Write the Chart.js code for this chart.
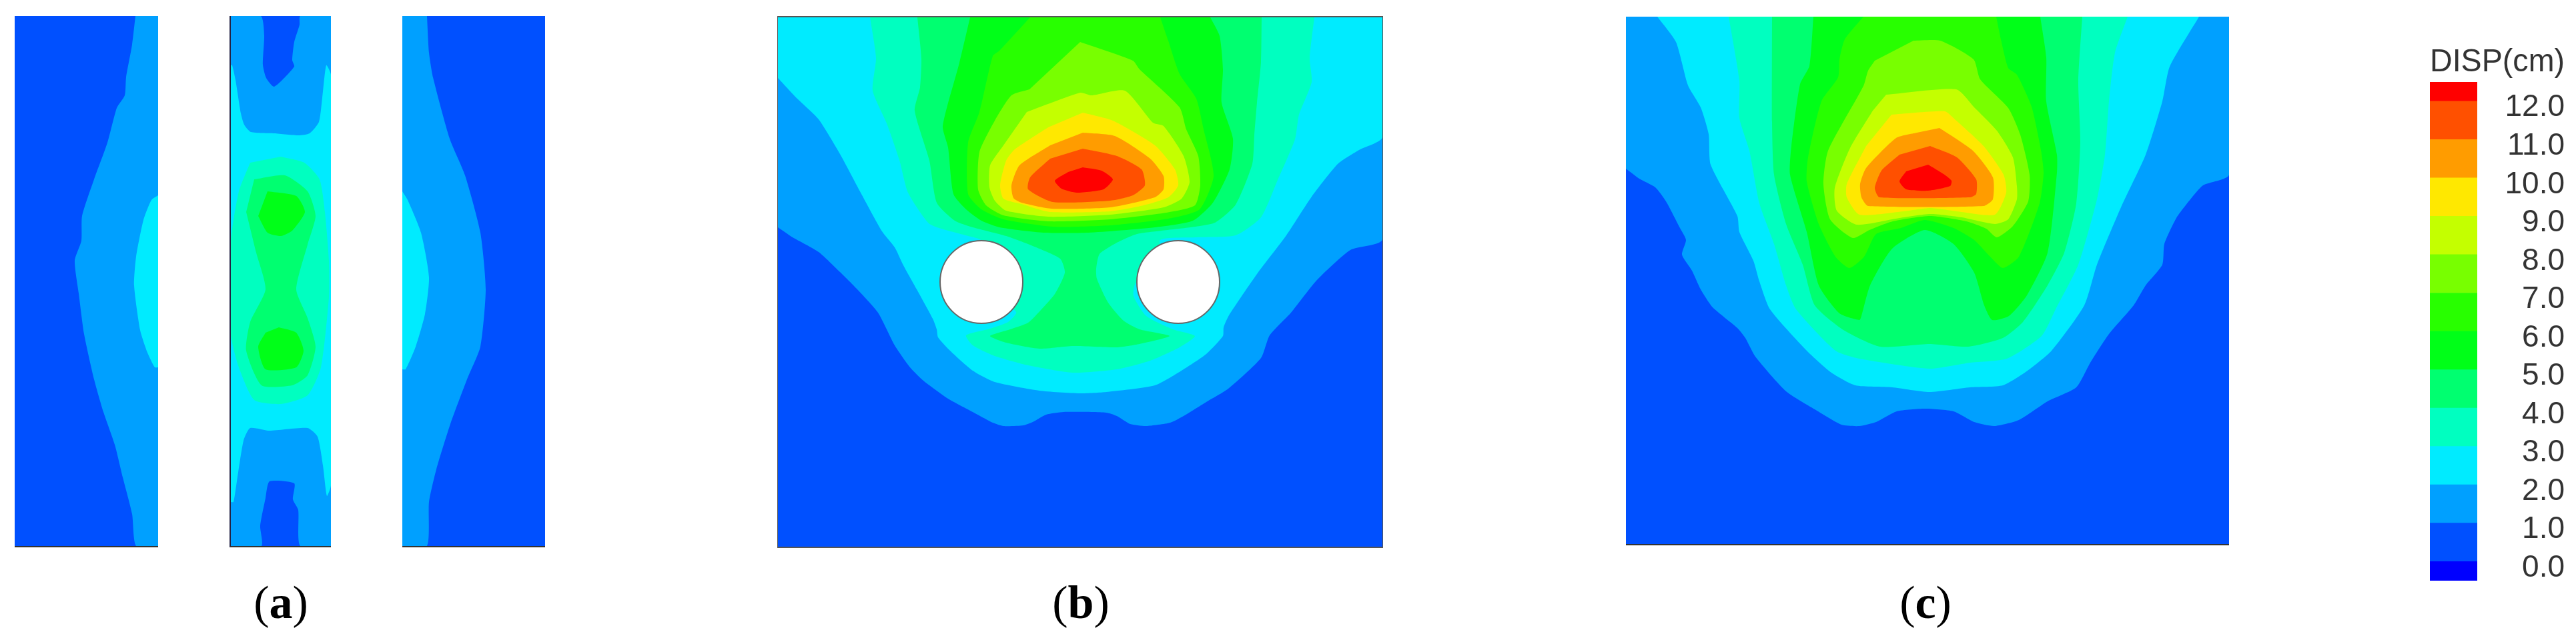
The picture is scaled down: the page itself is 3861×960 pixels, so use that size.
<!DOCTYPE html>
<html>
<head>
<meta charset="utf-8">
<title>DISP contours</title>
<script src="https://cdn.jsdelivr.net/npm/chart.js@4"></script>
<style>
    html, body { margin: 0; background: #fff; width: 3861px; height: 960px; overflow: hidden; }
    .panel { position: absolute; box-sizing: content-box; }
    .panel canvas { display: block; }
    .caption { position: absolute; top: 864px; width: 200px; text-align: center; color: #000;
        font: 70px "Liberation Serif", serif; line-height: 80px; }
</style>
</head>
<body>
<div class="panel" style="left:22px;top:24px;border-bottom:2px solid #333"><canvas id="a1" width="215" height="795"></canvas></div>
<div class="panel" style="left:344px;top:24px;border-bottom:2px solid #333;border-left:2px solid #224"><canvas id="a2" width="150" height="795"></canvas></div>
<div class="panel" style="left:603px;top:24px;border-bottom:2px solid #333"><canvas id="a3" width="214" height="795"></canvas></div>
<div class="panel" style="left:1165px;top:24px;border:1px solid #555;border-top-width:2px;border-bottom-width:2px"><canvas id="b" width="906" height="794"></canvas></div>
<div class="panel" style="left:2437px;top:25px;border-bottom:2px solid #333"><canvas id="c" width="904" height="791"></canvas></div>
<div class="panel" style="left:3642px;top:64px"><canvas id="legend" width="202" height="837"></canvas></div>
<div class="caption" style="left:321px">(<b>a</b>)</div>
<div class="caption" style="left:1520px">(<b>b</b>)</div>
<div class="caption" style="left:2786px">(<b>c</b>)</div>

<script>
// legend
const legendTicks = [0, 1, 2, 3, 4, 5, 6, 7, 8, 9, 10, 11, 12];
const legendBands = [[-0.5, 0], [0, 1], [1, 2], [2, 3], [3, 4], [4, 5], [5, 6], [6, 7], [7, 8], [8, 9], [9, 10], [10, 11], [11, 12], [12, 12.5]];
const levelColors = ['#0000ff', '#0050ff', '#00a0ff', '#00ebff', '#00ffc0', '#00ff70', '#00ff18', '#28ff00',
    '#78ff00', '#c4ff00', '#ffe800', '#ff9c00', '#ff5000', '#ff0000'];

// (a) left strip, contour outlines
const a1_L1 = [[0, 0], [215, 0], [215, 795], [0, 795]];
const a1_L2 = [[181, 0], [176, 43], [167, 92], [165, 119], [153, 138], [139, 190], [119, 245], [101, 300], [100, 337], [90, 367], [96, 416], [104, 477], [119, 545], [133, 594], [150, 643], [162, 692], [176, 747], [182, 795], [215, 795], [215, 0]];
const a1_L3 = [[215, 269], [205, 276], [193, 306], [182, 361], [179, 404], [188, 471], [199, 505], [210, 527], [215, 527]];

// (a) middle strip
const a2_L1 = [[0, 0], [150, 0], [150, 795], [0, 795]];
const a2_L2 = [[0, 0], [45, 0], [50, 29], [48, 73], [53, 93], [65, 106], [95, 76], [92, 66], [95, 39], [103, 13], [104, 0], [150, 0], [150, 795], [104, 795], [101, 741], [93, 725], [95, 701], [58, 698], [52, 723], [44, 765], [46, 795], [0, 795]];
const a2_L3 = [[0, 74], [2, 74], [7, 96], [15, 146], [20, 163], [30, 174], [65, 176], [102, 179], [118, 176], [132, 159], [137, 123], [143, 74], [150, 88], [150, 704], [144, 720], [138, 674], [130, 631], [115, 618], [58, 622], [29, 618], [19, 637], [9, 698], [4, 729], [0, 729]];
const a2_L4 = [[75, 211], [110, 220], [133, 245], [141, 294], [147, 367], [147, 422], [135, 527], [115, 569], [75, 582], [35, 576], [12, 527], [0, 478], [0, 337], [12, 263], [29, 220]];
const a2_L5 = [[35, 245], [81, 239], [115, 263], [127, 300], [115, 343], [98, 410], [115, 453], [127, 496], [115, 539], [92, 554], [46, 554], [23, 502], [29, 459], [52, 410], [38, 355], [23, 294]];
const a2_L6_top = [[55, 263], [98, 270], [111, 294], [92, 322], [75, 330], [55, 325], [41, 300]];
const a2_L6_bottom = [[72, 467], [98, 475], [109, 502], [98, 527], [52, 530], [41, 496], [52, 475]];

// (a) right strip
const a3_L1 = [[0, 0], [214, 0], [214, 795], [0, 795]];
const a3_L2 = [[37, 0], [40, 55], [46, 92], [71, 184], [94, 239], [117, 325], [125, 410], [117, 496], [97, 545], [72, 612], [51, 680], [40, 729], [37, 795], [0, 795], [0, 0]];
const a3_L3 = [[0, 263], [8, 276], [28, 325], [40, 392], [34, 447], [20, 496], [5, 530], [0, 530]];

// (b)
const b_L1 = [[0, 0], [906, 0], [906, 794], [0, 794]];
const b_L2 = [[0, 315], [22, 330], [61, 352], [93, 382], [118, 407], [150, 443], [175, 492], [198, 525], [218, 545], [255, 572], [292, 592], [322, 608], [338, 613], [368, 612], [382, 607], [402, 596], [428, 592], [492, 593], [508, 598], [528, 610], [552, 613], [588, 608], [608, 598], [642, 577], [675, 557], [724, 511], [737, 477], [769, 443], [807, 395], [858, 349], [906, 333], [906, 0], [0, 0]];
const b_L3 = [[0, 91], [29, 122], [61, 153], [93, 205], [124, 263], [156, 321], [175, 345], [188, 372], [208, 408], [232, 452], [238, 468], [240, 480], [258, 500], [292, 530], [325, 547], [392, 560], [452, 564], [492, 562], [565, 552], [608, 528], [642, 505], [667, 478], [668, 465], [676, 447], [718, 385], [762, 327], [800, 269], [839, 220], [871, 199], [906, 180], [906, 0], [0, 0]];
const b_L4 = [[138, 0], [147, 61], [142, 110], [163, 159], [182, 214], [195, 263], [226, 309], [248, 318], [285, 328], [305, 335], [305, 397], [357, 442], [345, 457], [318, 467], [282, 477], [292, 492], [325, 508], [375, 522], [442, 533], [508, 528], [558, 515], [602, 495], [625, 478], [592, 468], [552, 448], [533, 418], [537, 398], [600, 397], [572, 335], [628, 330], [686, 327], [724, 300], [749, 244], [775, 183], [781, 146], [800, 97], [797, 61], [804, 0]];
const b_L5 = [[209, 0], [215, 62], [213, 105], [205, 140], [227, 215], [238, 278], [265, 305], [292, 315], [342, 328], [382, 343], [423, 362], [430, 383], [415, 415], [395, 438], [375, 458], [348, 468], [318, 478], [342, 488], [392, 497], [442, 493], [508, 495], [542, 490], [587, 478], [542, 468], [518, 455], [495, 428], [478, 392], [477, 377], [482, 355], [508, 338], [538, 325], [575, 320], [618, 315], [655, 308], [686, 281], [711, 220], [714, 177], [718, 128], [724, 67], [725, 0]];
const b_L6 = [[288, 0], [272, 68], [247, 163], [255, 195], [263, 265], [282, 288], [305, 305], [332, 315], [398, 323], [465, 323], [565, 315], [622, 305], [652, 278], [677, 228], [682, 182], [665, 128], [667, 78], [662, 28], [648, 0]];
const b_L7 = [[378, 0], [332, 50], [322, 58], [302, 142], [285, 188], [285, 265], [305, 288], [338, 303], [412, 314], [498, 312], [585, 302], [632, 288], [653, 238], [638, 168], [627, 122], [602, 85], [585, 35], [573, 0]];
const b_L8 = [[453, 37], [532, 65], [542, 78], [602, 135], [612, 168], [630, 208], [633, 252], [625, 282], [582, 293], [498, 303], [405, 306], [338, 297], [312, 282], [300, 258], [302, 202], [325, 155], [350, 117], [377, 108]];
const b_L9 = [[373, 142], [453, 113], [470, 117], [520, 110], [562, 158], [578, 163], [608, 208], [617, 247], [605, 272], [578, 285], [498, 296], [405, 299], [342, 290], [325, 275], [317, 255], [318, 222], [338, 192]];
const b_L10 = [[457, 143], [502, 155], [565, 192], [595, 228], [600, 252], [585, 270], [548, 282], [498, 291], [408, 292], [365, 280], [338, 272], [333, 252], [342, 215], [355, 198], [405, 165]];
const b_L11 = [[457, 173], [505, 178], [558, 212], [578, 238], [578, 258], [565, 270], [498, 285], [410, 287], [365, 278], [353, 271], [350, 252], [362, 222], [408, 192]];
const b_L12 = [[457, 197], [508, 208], [545, 228], [550, 252], [532, 267], [498, 275], [412, 277], [375, 258], [378, 240], [408, 212]];
const b_L13 = [[457, 225], [485, 230], [502, 243], [488, 258], [448, 263], [425, 257], [415, 245], [435, 232]];
const b_holes = [[305, 397], [600, 397]];

// (c)
const c_L1 = [[0, 0], [904, 0], [904, 791], [0, 791]];
const c_L2 = [[0, 228], [20, 243], [44, 256], [60, 277], [81, 317], [90, 335], [84, 357], [99, 381], [112, 409], [130, 436], [167, 467], [179, 482], [194, 510], [240, 562], [283, 589], [323, 612], [350, 614], [375, 608], [406, 592], [448, 588], [491, 592], [522, 608], [552, 614], [589, 605], [632, 577], [675, 556], [696, 519], [724, 476], [761, 433], [779, 403], [804, 372], [807, 341], [825, 302], [846, 274], [865, 253], [904, 237], [904, 0], [0, 0]];
const c_L3 = [[47, 0], [75, 38], [93, 103], [112, 136], [124, 176], [127, 222], [167, 299], [170, 323], [191, 366], [200, 397], [216, 439], [271, 501], [308, 534], [344, 553], [399, 556], [455, 563], [516, 556], [565, 553], [602, 531], [638, 501], [687, 433], [706, 372], [742, 286], [779, 207], [804, 127], [815, 75], [859, 0]];
const c_L4 = [[154, 0], [170, 96], [170, 152], [185, 201], [200, 280], [222, 341], [240, 403], [255, 439], [314, 501], [350, 513], [455, 528], [516, 519], [571, 513], [623, 479], [644, 439], [678, 372], [706, 274], [718, 207], [724, 127], [733, 54], [752, 0]];
const c_L5 = [[219, 0], [219, 158], [222, 237], [240, 311], [265, 372], [283, 433], [326, 470], [381, 495], [455, 491], [513, 495], [565, 482], [595, 458], [632, 403], [657, 354], [675, 280], [681, 188], [678, 96], [684, 0]];
const c_L6 = [[281, 0], [275, 74], [261, 101], [248, 194], [246, 237], [271, 323], [289, 403], [320, 445], [350, 455], [353, 449], [366, 403], [399, 348], [448, 320], [491, 341], [522, 384], [537, 433], [549, 455], [574, 449], [601, 418], [632, 354], [646, 234], [646, 207], [630, 127], [630, 61], [621, 0]];
const c_L7 = [[356, 0], [328, 34], [320, 64], [318, 91], [293, 127], [273, 211], [271, 247], [289, 311], [314, 360], [335, 377], [357, 360], [375, 326], [412, 317], [448, 305], [491, 317], [522, 335], [546, 360], [565, 377], [589, 360], [620, 280], [626, 234], [622, 200], [608, 135], [586, 87], [573, 77], [562, 34], [555, 0]];
const c_L8 = [[431, 36], [471, 36], [521, 64], [531, 94], [573, 137], [591, 177], [605, 237], [603, 277], [580, 314], [556, 331], [540, 318], [510, 307], [456, 299], [400, 307], [365, 320], [340, 332], [306, 304], [296, 251], [303, 201], [356, 104], [363, 81], [373, 66]];
const c_L9 = [[390, 117], [495, 109], [523, 137], [556, 171], [580, 211], [586, 254], [586, 274], [573, 304], [553, 311], [503, 301], [456, 296], [410, 302], [346, 312], [316, 291], [313, 257], [336, 197], [370, 141]];
const c_L10 = [[398, 147], [478, 142], [493, 154], [536, 194], [566, 237], [570, 264], [553, 297], [496, 292], [456, 287], [416, 292], [350, 297], [331, 271], [331, 251], [360, 194]];
const c_L11 = [[470, 167], [520, 201], [550, 241], [550, 274], [536, 284], [363, 284], [353, 271], [351, 251], [360, 227], [405, 182], [436, 174]];
const c_L12 = [[456, 194], [496, 211], [525, 244], [525, 266], [516, 271], [380, 271], [373, 257], [383, 231], [410, 207]];
const c_L13 = [[453, 222], [476, 236], [488, 246], [486, 254], [453, 261], [420, 259], [410, 247], [420, 232]];

const contour = function (level, outline) {
    return {
        data: outline.map(function (p) { return {x: p[0], y: p[1]}; }),
        showLine: true,
        fill: 'shape',
        backgroundColor: levelColors[level],
        borderWidth: 0,
        pointRadius: 0,
        tension: level > 1 ? 0.2 : 0,
        order: -level,
    };
};

const drawPanel = function (id, width, height, datasets) {
    return new Chart(document.getElementById(id), {
        type: 'scatter',
        data: {datasets: datasets},
        options: {
            responsive: false,
            animation: false,
            events: [],
            layout: {autoPadding: false},
            plugins: {legend: {display: false}, tooltip: {enabled: false}},
            scales: {
                x: {type: 'linear', display: false, min: 0, max: width},
                y: {type: 'linear', display: false, min: 0, max: height, reverse: true},
            },
        },
    });
};

drawPanel('a1', 215, 795, [contour(1, a1_L1), contour(2, a1_L2), contour(3, a1_L3)]);

drawPanel('a2', 150, 795, [
    contour(1, a2_L1), contour(2, a2_L2), contour(3, a2_L3), contour(4, a2_L4), contour(5, a2_L5),
    contour(6, a2_L6_top), contour(6, a2_L6_bottom),
]);

drawPanel('a3', 214, 795, [contour(1, a3_L1), contour(2, a3_L2), contour(3, a3_L3)]);

drawPanel('b', 906, 794, [
    contour(1, b_L1), contour(2, b_L2), contour(3, b_L3), contour(4, b_L4), contour(5, b_L5), contour(6, b_L6),
    contour(7, b_L7), contour(8, b_L8), contour(9, b_L9), contour(10, b_L10), contour(11, b_L11),
    contour(12, b_L12), contour(13, b_L13),
    {
        data: b_holes.map(function (p) { return {x: p[0], y: p[1]}; }),
        pointRadius: 62,
        pointBackgroundColor: '#fff',
        pointBorderColor: '#666',
        pointBorderWidth: 2,
        order: -100,
    },
]);

drawPanel('c', 904, 791, [
    contour(1, c_L1), contour(2, c_L2), contour(3, c_L3), contour(4, c_L4), contour(5, c_L5), contour(6, c_L6),
    contour(7, c_L7), contour(8, c_L8), contour(9, c_L9), contour(10, c_L10), contour(11, c_L11),
    contour(12, c_L12), contour(13, c_L13),
]);

// colour bar
new Chart(document.getElementById('legend'), {
    type: 'bar',
    data: {
        labels: ['DISP'],
        datasets: legendBands.map(function (band, i) {
            return {data: [band], backgroundColor: levelColors[i], barPercentage: 1, categoryPercentage: 1};
        }),
    },
    options: {
        responsive: false,
        animation: false,
        events: [],
        layout: {padding: {bottom: 30}},
        plugins: {
            legend: {display: false},
            tooltip: {enabled: false},
            title: {
                display: true,
                text: 'DISP(cm)',
                align: 'start',
                color: '#333',
                padding: 0,
                font: {family: '"Liberation Sans"', size: 48, weight: 'normal', lineHeight: 1.23},
            },
        },
        scales: {
            x: {display: false, stacked: true},
            y: {
                position: 'right',
                min: -0.5,
                max: 12.5,
                afterBuildTicks: function (axis) {
                    axis.ticks = legendTicks.map(function (v) { return {value: v}; });
                },
                afterFit: function (axis) {
                    axis.width = 131;
                    axis.paddingTop = 0;
                    axis.paddingBottom = 0;
                },
                grid: {display: false},
                border: {display: false},
                ticks: {
                    color: '#333',
                    padding: 42,
                    crossAlign: 'far',
                    labelOffset: 10,
                    font: {family: '"Liberation Sans"', size: 46},
                    callback: function (v) { return v.toFixed(1); },
                },
            },
        },
    },
});
</script>
</body>
</html>
